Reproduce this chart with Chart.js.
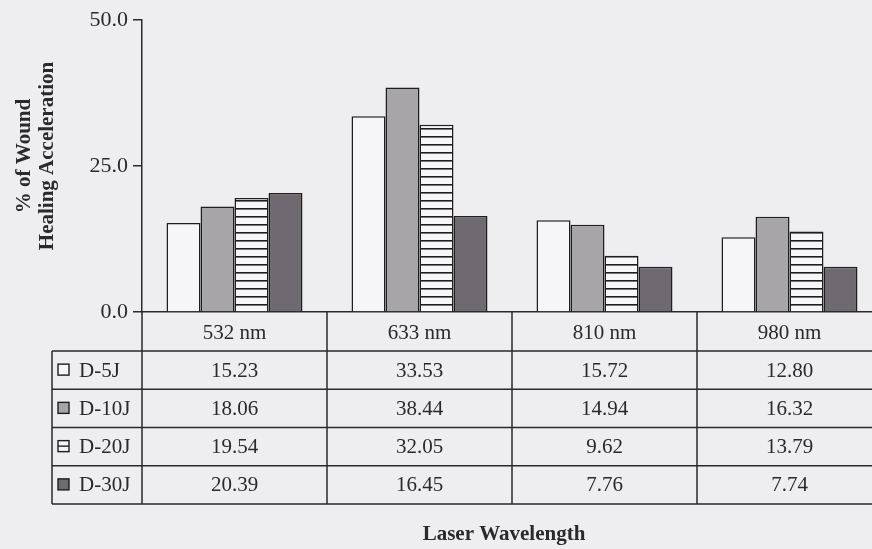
<!DOCTYPE html>
<html>
<head>
<meta charset="utf-8">
<script src="https://cdn.jsdelivr.net/npm/chart.js@4"></script>
<style>
  html, body { margin: 0; padding: 0; overflow: hidden; background: #eeedef; }
  .wrap { position: absolute; left: 0; top: 0; width: 892px; height: 549px; }
</style>
</head>
<body>
<div class="wrap"><canvas id="chart" width="892" height="549"></canvas></div>
<script>
const wavelengths = ["532 nm", "633 nm", "810 nm", "980 nm"];
const doseNames = ["D-5J", "D-10J", "D-20J", "D-30J"];
const d5j = [15.23, 33.53, 15.72, 12.8];
const d10j = [18.06, 38.44, 14.94, 16.32];
const d20j = [19.54, 32.05, 9.62, 13.79];
const d30j = [20.39, 16.45, 7.76, 7.74];

const serif = "'Liberation Serif', 'Times New Roman', serif";
const ink = "#2a2a2a";
const paper = "#f6f5f7";
const edge = "#1e1e1e";

const canvas = document.getElementById("chart");

// horizontal stripes for D-20J
function stripes() {
  const c = document.createElement("canvas");
  c.width = 8;
  c.height = 8;
  const g = c.getContext("2d");
  g.fillStyle = paper;
  g.fillRect(0, 0, 8, 8);
  g.fillStyle = edge;
  g.fillRect(0, 0, 8, 1.6);
  return canvas.getContext("2d").createPattern(c, "repeat");
}

function swatch(ctx, i, x, y) {
  const s = 11;
  ctx.fillStyle = [paper, "#a8a5a9", paper, "#6f6971"][i];
  ctx.fillRect(x, y, s, s);
  ctx.strokeStyle = edge;
  ctx.lineWidth = 1.4;
  ctx.strokeRect(x, y, s, s);
  if (i === 2) {
    ctx.beginPath();
    ctx.moveTo(x, y + s / 2);
    ctx.lineTo(x + s, y + s / 2);
    ctx.stroke();
  }
}

// data table under the bars + axis titles
const tablePlugin = {
  id: "table",
  afterDraw(chart) {
    const ctx = chart.ctx;
    const x = chart.scales.x;
    const base = chart.chartArea.bottom;
    const headH = 39;
    const rowH = 38.25;
    const labelLeft = 52;
    const n = wavelengths.length;
    const colW = (x.right - x.left) / n;
    const rowsTop = base + headH;
    const bottom = rowsTop + rowH * doseNames.length;

    ctx.save();
    ctx.strokeStyle = ink;
    ctx.lineWidth = 1.5;
    ctx.beginPath();
    for (let i = 0; i <= n; i++) {
      const px = x.left + i * colW;
      ctx.moveTo(px, base);
      ctx.lineTo(px, bottom);
    }
    for (let r = 0; r <= doseNames.length; r++) {
      const py = rowsTop + r * rowH;
      ctx.moveTo(labelLeft, py);
      ctx.lineTo(x.right, py);
    }
    ctx.moveTo(labelLeft, rowsTop);
    ctx.lineTo(labelLeft, bottom);
    ctx.stroke();

    ctx.font = "21px " + serif;
    ctx.textBaseline = "middle";
    chart.data.datasets.forEach((ds, r) => {
      const cy = rowsTop + (r + 0.5) * rowH;
      swatch(ctx, r, 58, cy - 6);
      ctx.fillStyle = ink;
      ctx.textAlign = "left";
      ctx.fillText(ds.label, 79, cy + 1);
      ctx.textAlign = "center";
      ds.data.forEach((v, i) => {
        ctx.fillText(v.toFixed(2), x.getPixelForValue(i), cy + 1);
      });
    });

    ctx.font = "bold 21px " + serif;
    ctx.fillStyle = ink;
    ctx.textAlign = "center";
    ctx.fillText("Laser Wavelength", 504, 535);

    const midY = (chart.chartArea.top + chart.chartArea.bottom) / 2 - 10;
    [["% of Wound", 25], ["Healing Acceleration", 48]].forEach(([t, px]) => {
      ctx.save();
      ctx.translate(px, midY);
      ctx.rotate(-Math.PI / 2);
      ctx.fillText(t, 0, 0);
      ctx.restore();
    });
    ctx.restore();
  },
};

const fills = [paper, "#a8a5a9", stripes(), "#6f6971"];
const series = [d5j, d10j, d20j, d30j];

new Chart(canvas, {
  type: "bar",
  data: {
    labels: wavelengths,
    datasets: series.map((vals, i) => ({
      label: doseNames[i],
      data: vals,
      backgroundColor: fills[i],
      borderColor: edge,
      borderWidth: 1.5,
      categoryPercentage: 0.735,
      barPercentage: 1.0,
    })),
  },
  options: {
    responsive: false,
    animation: false,
    layout: { padding: { left: 0, right: 10, top: 20, bottom: 0 } },
    plugins: {
      legend: { display: false },
      tooltip: { enabled: false },
    },
    scales: {
      x: {
        grid: { display: false },
        border: { display: true, color: ink, width: 1.5 },
        ticks: { color: ink, font: { family: serif, size: 21 }, padding: 1 },
        afterFit(scale) {
          scale.height = 237;
        },
      },
      y: {
        min: 0,
        max: 50,
        ticks: {
          stepSize: 25,
          color: ink,
          padding: 5,
          font: { family: serif, size: 22 },
          callback: (v) => v.toFixed(1),
        },
        grid: {
          drawOnChartArea: false,
          drawTicks: true,
          tickLength: 9,
          color: ink,
          lineWidth: 1.5,
        },
        border: { display: true, color: ink, width: 1.5 },
        afterFit(scale) {
          scale.width = 142;
        },
      },
    },
  },
  plugins: [tablePlugin],
});
</script>
</body>
</html>
